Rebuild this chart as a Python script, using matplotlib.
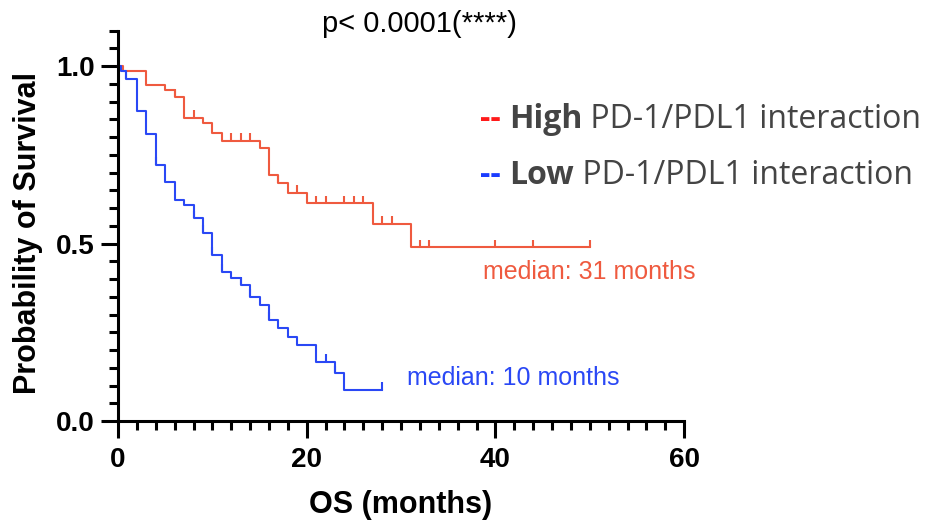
import numpy as np
import matplotlib
matplotlib.use("Agg")
import matplotlib.pyplot as plt
from matplotlib.ticker import MultipleLocator

plt.rcParams["font.family"] = "Liberation Sans"

# Kaplan-Meier steps (time in months, survival after drop)
high_t = [0, 0.5, 3, 5, 6, 7, 9, 10, 11, 15, 16, 17, 18, 20, 27, 31]
high_s = [1.0, 0.985, 0.946, 0.932, 0.914, 0.853, 0.839, 0.81, 0.79, 0.768, 0.693, 0.67, 0.643, 0.613, 0.555, 0.489]
high_end = 50
high_cens = [6, 8, 12, 13, 14, 17, 19, 21, 22, 24, 25, 26, 28, 29, 32, 33, 40, 44, 50]

low_t = [0, 0.3, 0.8, 2, 3, 4, 5, 6, 7, 8, 9, 10, 11, 12, 13, 14, 15, 16, 17, 18, 19, 21, 23, 24]
low_s = [1.0, 0.985, 0.963, 0.872, 0.808, 0.721, 0.674, 0.623, 0.608, 0.571, 0.529, 0.468, 0.421,
         0.402, 0.383, 0.350, 0.327, 0.285, 0.261, 0.237, 0.214, 0.167, 0.134, 0.087]
low_end = 28
low_cens = [0.8, 4, 8, 9, 10, 11, 13, 14, 16, 22, 23, 28]

red = "#ef5a3f"
blue = "#2a48f5"

fig = plt.figure(figsize=(9.25, 5.27), dpi=100)
ax = fig.add_axes([0.1276, 0.2011, 0.612, 0.741])


def km(ax, t, s, t_end, cens, color):
    tt = list(t) + [t_end]
    ss = list(s) + [s[-1]]
    ax.step(tt, ss, where="post", color=color, lw=1.5, clip_on=False)
    idx = np.searchsorted(np.array(t), np.array(cens), side="right") - 1
    lev = np.array(s)[idx]
    ax.vlines(cens, lev, lev + 0.022, color=color, lw=1.5, clip_on=False)


km(ax, high_t, high_s, high_end, high_cens, red)
km(ax, low_t, low_s, low_end, low_cens, blue)

ax.set_xlim(0, 60)
ax.set_ylim(0, 1.1)
ax.spines["top"].set_visible(False)
ax.spines["right"].set_visible(False)
for sp in ["left", "bottom"]:
    ax.spines[sp].set_linewidth(2.2)

ax.set_xticks([0, 20, 40, 60])
ax.set_yticks([0.0, 0.5, 1.0])
ax.set_yticklabels(["0.0", "0.5", "1.0"])
ax.xaxis.set_minor_locator(MultipleLocator(2))
ax.yaxis.set_minor_locator(MultipleLocator(0.05))
ax.tick_params(which="major", length=12, width=2.2, labelsize=20)
ax.tick_params(axis="x", which="major", pad=7)
ax.tick_params(axis="y", which="major", pad=5)
ax.tick_params(which="minor", length=6.5, width=2.2)
for lb in ax.get_xticklabels() + ax.get_yticklabels():
    lb.set_fontweight("bold")

fig.text(401 / 925, 1 - 505 / 527, "OS (months)", fontsize=22, fontweight="bold",
         ha="center", va="center")
fig.text(28 / 925, 1 - 233 / 527, "Probability of Survival", fontsize=22, fontweight="bold",
         ha="center", va="center", rotation=90)

fig.text(419 / 925, 1 - 24 / 527, "p< 0.0001(****)", fontsize=21, ha="center", va="center")

ax.text(38.7, 0.421, "median: 31 months", color=red, fontsize=18, va="center")
ax.text(30.6, 0.12, "median: 10 months", color=blue, fontsize=18, va="center")

# legend built from text pieces
leg_rows = [("--", "#ff1a1a", "High", 119), ("--", "#1a3cff", "Low", 176)]
fig.canvas.draw()
r = fig.canvas.get_renderer()
for dash, dcol, word, ypx in leg_rows:
    x = 480 / 925
    y = 1 - ypx / 527
    t1 = fig.text(x, y, dash + " ", color=dcol, fontsize=23, fontfamily="Open Sans",
                  fontweight="bold", va="center")
    bb = t1.get_window_extent(r)
    x = bb.x1 / fig.bbox.width
    t2 = fig.text(x, y, word, color="#444444", fontsize=23, fontfamily="Open Sans",
                  fontweight="bold", va="center")
    bb = t2.get_window_extent(r)
    x = bb.x1 / fig.bbox.width
    fig.text(x, y, " PD-1/PDL1 interaction", color="#444444", fontsize=23,
             fontfamily="Open Sans", va="center")

fig.savefig("out.png", dpi=100)
